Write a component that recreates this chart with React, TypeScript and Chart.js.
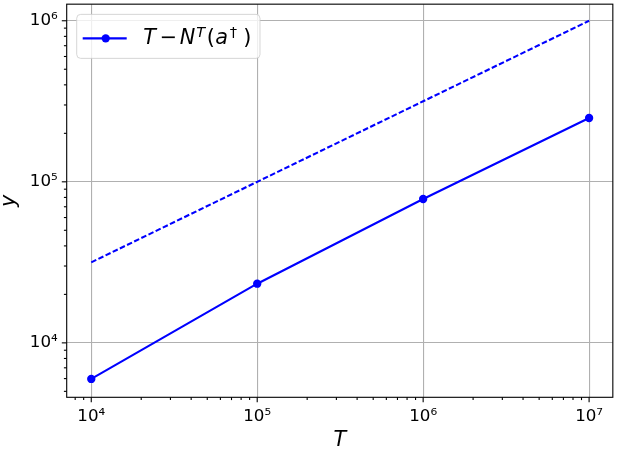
import React, { useEffect, useRef } from "react";
import { Chart, registerables } from "chart.js";

Chart.register(...registerables);

// ---- data ----
const T_VALUES = [1e4, 1e5, 1e6, 1e7];
const REGRET = [5970, 23300, 78200, 249000];
const REFERENCE = [31623, 100000, 316228, 1000000];

// ---- ticks ----
const X_MAJOR = [1e4, 1e5, 1e6, 1e7];
const X_LABELS = ["10⁴", "10⁵", "10⁶", "10⁷"];
const Y_MAJOR = [1e4, 1e5, 1e6];
const Y_LABELS = ["10⁴", "10⁵", "10⁶"];

const X_MIN = Math.pow(10, 3.852);
const X_MAX = Math.pow(10, 7.143);
const Y_MIN = Math.pow(10, 3.662);
const Y_MAX = Math.pow(10, 6.103);

const BLUE = "#0000ff";
const FONT = "DejaVu Sans";

function minorTicks(min: number, max: number): number[] {
  const out: number[] = [];
  const lo = Math.floor(Math.log10(min));
  const hi = Math.ceil(Math.log10(max));
  for (let e = lo; e <= hi; e++) {
    for (let k = 2; k <= 9; k++) {
      const v = k * Math.pow(10, e);
      if (v >= min && v <= max) out.push(v);
    }
  }
  return out;
}

const decorPlugin = {
  id: "decor",
  afterDatasetsDraw(chart: any) {
    const ctx = chart.ctx as CanvasRenderingContext2D;
    const { left, right, top, bottom } = chart.chartArea;
    const xs = chart.scales.x;
    const ys = chart.scales.y;
    ctx.save();
    // frame
    ctx.strokeStyle = "#000";
    ctx.lineWidth = 1.1;
    ctx.strokeRect(left, top, right - left, bottom - top);
    // ticks
    const tick = (x1: number, y1: number, x2: number, y2: number) => {
      ctx.beginPath();
      ctx.moveTo(x1, y1);
      ctx.lineTo(x2, y2);
      ctx.stroke();
    };
    X_MAJOR.forEach((v) => {
      const p = xs.getPixelForValue(v);
      tick(p, bottom, p, bottom + 4.9);
    });
    minorTicks(X_MIN, X_MAX).forEach((v) => {
      const p = xs.getPixelForValue(v);
      tick(p, bottom, p, bottom + 2.8);
    });
    Y_MAJOR.forEach((v) => {
      const p = ys.getPixelForValue(v);
      tick(left, p, left - 4.9, p);
    });
    minorTicks(Y_MIN, Y_MAX).forEach((v) => {
      const p = ys.getPixelForValue(v);
      tick(left, p, left - 2.8, p);
    });

    // legend
    const bx = left + 10;
    const by = top + 10.2;
    const bw = 183.3;
    const bh = 44;
    ctx.beginPath();
    (ctx as any).roundRect(bx, by, bw, bh, 4);
    ctx.fillStyle = "rgba(255,255,255,0.8)";
    ctx.fill();
    ctx.strokeStyle = "rgba(204,204,204,0.8)";
    ctx.lineWidth = 1;
    ctx.stroke();

    const ly = by + 24;
    ctx.strokeStyle = BLUE;
    ctx.lineWidth = 2.08;
    tick(bx + 6, ly, bx + 50, ly);
    ctx.beginPath();
    ctx.arc(bx + 29, ly, 4.17, 0, Math.PI * 2);
    ctx.fillStyle = BLUE;
    ctx.fill();

    const tx = bx + 66.6;
    const base = by + 29.3;
    const pieces: [string, number, boolean, boolean][] = [
      ["T", 0, true, false],
      ["−", 16.5, false, false],
      ["N", 36.5, true, false],
      ["T", 53, true, true],
      ["(", 63.5, false, false],
      ["a", 72, true, false],
      ["†", 86.5, false, true],
      [")", 100, false, false],
    ];
    ctx.fillStyle = "#000";
    ctx.textBaseline = "alphabetic";
    ctx.textAlign = "left";
    pieces.forEach(([s, dx, it, sup]) => {
      const size = sup ? 14.6 : 20.8;
      ctx.font = `${it ? "italic " : ""}${size}px "${FONT}"`;
      ctx.fillText(s, tx + dx, sup ? base - 6.3 : base);
    });
    ctx.restore();
  },
};

export default function App() {
  const ref = useRef<HTMLCanvasElement | null>(null);

  useEffect(() => {
    if (!ref.current) return;
    Chart.defaults.font.family = FONT;
    const chart = new Chart(ref.current, {
      type: "line",
      data: {
        datasets: [
          {
            label: "T − Nᵀ(a†)",
            data: T_VALUES.map((t, i) => ({ x: t, y: REGRET[i] })),
            borderColor: BLUE,
            backgroundColor: BLUE,
            borderWidth: 2.08,
            pointRadius: 4.17,
            pointBorderWidth: 0,
            pointBackgroundColor: BLUE,
            tension: 0,
          },
          {
            label: "reference",
            data: T_VALUES.map((t, i) => ({ x: t, y: REFERENCE[i] })),
            borderColor: BLUE,
            borderWidth: 2.08,
            borderDash: [5.55, 2.4],
            pointRadius: 0,
            tension: 0,
          },
        ],
      },
      options: {
        animation: false,
        responsive: false,
        devicePixelRatio: 1,
        layout: { padding: { top: 1.5, right: 2.7, left: 0, bottom: 0 } },
        plugins: { legend: { display: false }, tooltip: { enabled: false } },
        scales: {
          x: {
            type: "logarithmic",
            min: X_MIN,
            max: X_MAX,
            afterBuildTicks: (s: any) => {
              s.ticks = X_MAJOR.map((v) => ({ value: v }));
            },
            afterFit: (s: any) => {
              s.height = 51.7;
              s.paddingLeft = 0;
              s.paddingRight = 0;
            },
            ticks: {
              callback: (v: any) => X_LABELS[X_MAJOR.indexOf(Number(v))] ?? "",
              font: { family: FONT, size: 16.7 },
              color: "#000",
              padding: 9,
              maxRotation: 0,
              autoSkip: false,
            },
            grid: { color: "#b0b0b0", lineWidth: 1.1, drawTicks: false },
            border: { display: false },
            title: {
              display: true,
              text: "T",
              color: "#000",
              font: { family: FONT, size: 20.8, style: "italic", lineHeight: 0.79 },
              padding: { top: 0, bottom: 0 },
            },
          },
          y: {
            type: "logarithmic",
            min: Y_MIN,
            max: Y_MAX,
            afterBuildTicks: (s: any) => {
              s.ticks = Y_MAJOR.map((v) => ({ value: v }));
            },
            afterFit: (s: any) => {
              s.width = 66.7;
              s.paddingTop = 0;
              s.paddingBottom = 0;
            },
            ticks: {
              callback: (v: any) => Y_LABELS[Y_MAJOR.indexOf(Number(v))] ?? "",
              font: { family: FONT, size: 16.7 },
              color: "#000",
              padding: 9,
              autoSkip: false,
            },
            grid: { color: "#b0b0b0", lineWidth: 1.1, drawTicks: false },
            border: { display: false },
            title: {
              display: true,
              text: "y",
              color: "#000",
              font: { family: FONT, size: 20.8, style: "italic", lineHeight: 0.92 },
              padding: { top: 0, bottom: 0 },
            },
          },
        },
      },
      plugins: [decorPlugin],
    } as any);
    return () => chart.destroy();
  }, []);

  return (
    <div style={{ position: "absolute", left: 0, top: 0, width: 617, height: 449 }}>
      <canvas ref={ref} width={617} height={449} style={{ display: "block" }} />
    </div>
  );
}
